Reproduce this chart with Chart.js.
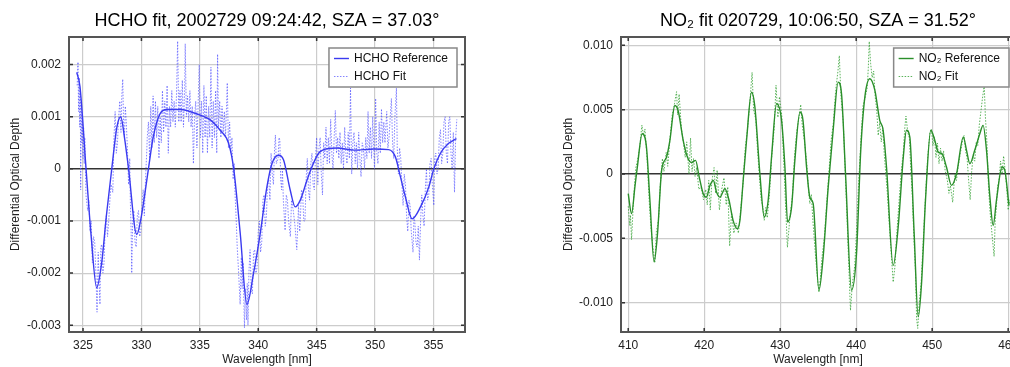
<!DOCTYPE html>
<html>
<head>
<meta charset="utf-8">
<script src="https://cdn.jsdelivr.net/npm/chart.js@4/dist/chart.umd.min.js"></script>
<style>
  html, body { margin: 0; padding: 0; background: #fff; overflow: hidden; width: 1010px; height: 367px; }
  #left { position: absolute; left: 0; top: 0; width: 505px; height: 367px; }
  #right { position: absolute; left: 505px; top: 0; width: 560px; height: 367px; }
</style>
</head>
<body>
<div id="left"><canvas id="hcho"></canvas></div>
<div id="right"><canvas id="no2"></canvas></div>
<script>
// values in units of 1e-3 optical depth, [wavelength nm, value]
const hchoRef = [
  [324.46,1.85],[324.74,1.58],[325.26,0],[325.7,-1.3],[326.17,-2.28],[326.6,-1.8],[327.0,-0.9],[327.46,0],
  [327.9,0.8],[328.23,1.0],[328.55,0.6],[328.9,0],[329.6,-1.26],[330.0,-0.9],[330.6,0],[331.0,0.6],
  [331.6,1.06],[332.17,1.14],[333.3,1.14],[335.03,1.03],[335.9,0.94],[336.74,0.74],[337.46,0.49],[337.9,0],
  [338.46,-1.24],[339.03,-2.6],[339.6,-2.0],[340.17,-1.24],[340.74,-0.35],[341.17,0.1],[341.74,0.26],[342.17,0.17],
  [342.74,-0.41],[343.17,-0.73],[343.6,-0.6],[344.17,-0.22],[344.6,0.04],[345.17,0.3],[346.03,0.39],[346.74,0.4],
  [348.17,0.36],[349.89,0.38],[351.17,0.37],[351.74,0.23],[352.17,-0.15],[352.6,-0.54],[353.17,-0.96],[353.89,-0.73],
  [354.6,-0.35],[355.03,0],[355.6,0.3],[356.3,0.49],[356.97,0.58]
];
const hchoFit = [
  [324.5,1.6],[324.57,2.05],[324.62,1.1],[324.67,1.75],[324.72,0.8],[324.77,1.5],[324.8,-0.4],[324.85,1.2],
  [324.9,0.5],[324.95,0.9],[325.0,0.2],[325.05,0.8],[325.1,0.1],[325.15,0.6],[325.25,-0.5],[325.4,-0.8],
  [325.5,-0.6],[325.6,-1.2],[325.7,-1.0],[325.8,-1.8],[325.9,-1.3],[326.0,-1.4],[326.1,-2.0],[326.2,-2.75],
  [326.3,-1.6],[326.38,-2.2],[326.45,-2.6],[326.52,-1.5],[326.6,-1.45],[326.7,-2.0],[326.8,-1.8],[326.9,-1.1],
  [327.0,-0.9],[327.1,-1.3],[327.2,-1.0],[327.3,-0.6],[327.4,-0.3],[327.55,-0.45],[327.65,0.6],[327.75,1.1],
  [327.85,0.3],[327.95,0.5],[328.05,1.0],[328.15,1.3],[328.25,0.7],[328.32,1.4],[328.4,1.72],[328.47,0.9],
  [328.55,0.6],[328.62,1.2],[328.7,0.9],[328.8,0.4],[328.9,-0.3],[329.0,0.2],[329.05,-0.6],[329.12,-1.2],
  [329.17,-2.0],[329.25,-1.0],[329.35,-0.8],[329.45,-1.4],[329.55,-1.5],[329.65,-0.9],[329.75,-0.8],[329.85,-1.3],
  [329.95,-1.2],[330.05,-0.7],[330.15,-0.4],[330.25,-0.9],[330.35,-0.2],[330.45,0.3],[330.5,0.6],[330.6,0.9],
  [330.7,0.2],[330.8,1.2],[330.9,0.4],[331.0,1.4],[331.1,0.5],[331.2,1.3],[331.3,0.6],[331.4,1.2],
  [331.5,0.2],[331.6,1.0],[331.7,0.5],[331.8,1.5],[331.9,0.7],[332.0,1.3],[332.1,0.8],[332.2,1.6],
  [332.3,0.3],[332.4,1.2],[332.5,0.8],[332.6,1.5],[332.7,0.9],[332.8,1.3],[332.9,0.8],[333.0,1.4],
  [333.1,2.45],[333.2,0.9],[333.3,1.5],[333.4,0.9],[333.5,1.7],[333.6,0.8],[333.7,1.5],[333.75,2.4],
  [333.85,1.0],[333.95,1.4],[334.05,0.9],[334.15,1.5],[334.25,0.8],[334.35,1.2],[334.45,0.1],[334.55,1.0],
  [334.65,1.3],[334.75,0.4],[334.85,1.2],[334.95,2.0],[335.05,0.6],[335.15,1.3],[335.25,0.3],[335.35,1.6],
  [335.45,0.6],[335.55,1.4],[335.65,0.3],[335.75,1.2],[335.85,0.6],[335.95,1.95],[336.05,0.4],[336.15,1.3],
  [336.25,0.6],[336.35,1.5],[336.45,0.3],[336.52,2.2],[336.6,0.8],[336.7,1.3],[336.8,0.6],[336.9,1.2],
  [337.0,0.7],[337.1,1.1],[337.2,0.6],[337.35,1.65],[337.45,0.4],[337.55,0.9],[337.65,0.3],[337.75,0.6],
  [337.85,-0.2],[337.95,0.1],[338.0,-0.4],[338.1,-0.9],[338.2,-1.5],[338.3,-1.9],[338.45,-2.6],[338.55,-1.7],
  [338.62,-2.3],[338.7,-1.8],[338.82,-3.05],[338.9,-2.3],[339.0,-2.9],[339.06,-2.2],[339.12,-3.0],[339.2,-2.0],
  [339.3,-1.55],[339.4,-2.3],[339.5,-2.4],[339.6,-1.6],[339.7,-1.55],[339.8,-2.0],[339.9,-1.9],[340.0,-1.2],
  [340.1,-1.0],[340.2,-1.6],[340.3,-1.4],[340.4,-0.6],[340.5,-0.5],[340.6,-1.1],[340.7,-0.9],[340.8,-0.3],
  [340.9,-0.2],[341.0,-0.6],[341.1,0.3],[341.2,-0.1],[341.3,-0.3],[341.4,0.4],[341.47,0.65],[341.55,0.1],
  [341.7,0.2],[341.78,0.6],[341.85,0.55],[341.92,-0.2],[342.0,-0.4],[342.07,0.0],[342.15,-0.6],[342.3,-1.18],
  [342.4,-0.5],[342.5,-0.6],[342.6,-1.0],[342.75,-1.3],[342.85,-0.6],[343.0,-0.8],[343.15,-1.1],[343.3,-1.55],
  [343.45,-0.7],[343.55,-1.2],[343.6,-1.0],[343.7,-0.4],[343.8,-0.5],[343.9,-1.0],[344.0,-1.0],[344.1,-0.2],
  [344.2,0.2],[344.3,-0.4],[344.4,-0.6],[344.5,0.1],[344.6,0.3],[344.7,-0.3],[344.8,-0.4],[344.9,0.2],
  [345.0,0.6],[345.1,-0.3],[345.2,0.4],[345.3,0.6],[345.4,-0.1],[345.5,-0.5],[345.6,0.5],[345.7,0.2],
  [345.8,0.8],[345.9,0.1],[346.0,0.6],[346.1,0.1],[346.2,0.95],[346.3,0.3],[346.4,0.0],[346.5,0.6],
  [346.6,1.12],[346.7,0.3],[346.8,0.6],[346.9,0.2],[347.0,0.7],[347.1,0.1],[347.2,0.5],[347.3,0.0],
  [347.4,0.8],[347.5,0.3],[347.6,0.1],[347.7,0.7],[347.8,0.2],[347.9,1.55],[348.0,-0.1],[348.1,0.5],
  [348.2,0.7],[348.3,0.1],[348.4,0.5],[348.5,0.0],[348.6,0.7],[348.7,0.2],[348.8,-0.15],[348.9,0.5],
  [349.0,0.4],[349.1,0.0],[349.2,0.6],[349.3,0.2],[349.4,1.1],[349.5,0.3],[349.6,0.8],[349.7,0.2],
  [349.8,1.0],[349.9,0.3],[349.95,0.0],[350.05,1.35],[350.15,0.3],[350.25,0.1],[350.35,0.9],[350.45,0.3],
  [350.55,1.15],[350.65,0.5],[350.75,0.9],[350.85,0.5],[351.0,1.1],[351.1,0.4],[351.2,0.6],[351.3,1.0],
  [351.4,1.35],[351.5,0.5],[351.6,0.2],[351.7,1.0],[351.83,1.55],[351.9,0.4],[352.0,-0.1],[352.1,0.4],
  [352.2,0.2],[352.3,-0.3],[352.4,-0.7],[352.5,-0.1],[352.6,-0.3],[352.7,-0.9],[352.8,-1.2],[352.9,-0.6],
  [353.0,-0.7],[353.1,-1.2],[353.25,-1.6],[353.33,-0.9],[353.4,-1.0],[353.5,-1.4],[353.6,-1.5],[353.7,-1.1],
  [353.8,-1.75],[353.9,-1.0],[354.0,-0.5],[354.1,-0.9],[354.2,-1.1],[354.3,-0.4],[354.4,0.0],[354.5,-0.6],
  [354.6,-0.5],[354.7,0.1],[354.8,0.2],[354.9,-0.3],[355.03,-0.7],[355.1,0.2],[355.2,0.3],[355.3,-0.1],
  [355.4,0.0],[355.5,0.6],[355.6,0.75],[355.7,0.1],[355.8,0.3],[355.9,0.9],[356.0,1.0],[356.1,0.3],
  [356.2,0.1],[356.3,0.9],[356.4,1.0],[356.5,0.3],[356.6,0.0],[356.7,0.7],[356.8,-0.45],[356.9,0.6],
  [357.0,0.95]
];
const no2Ref = [
  [410.0,-1.53],[410.44,-3.08],[410.88,-1.0],[411.2,0.54],[411.84,3.13],[412.4,2.1],[412.85,-2.0],[413.4,-6.83],
  [413.86,-4.6],[414.4,0.3],[415.04,1.3],[415.48,2.6],[416.14,5.33],[416.58,4.9],[417.24,2.6],[417.8,1.3],
  [418.33,0.9],[418.86,1.06],[419.34,-0.23],[419.87,-1.53],[420.3,-1.8],[420.75,-0.9],[421.2,-0.5],[421.62,-1.4],
  [422.06,-1.8],[422.72,-1.14],[423.25,-2.0],[423.8,-3.6],[424.34,-4.25],[424.7,-3.6],[425.13,-0.5],[425.57,2.6],
  [426.23,6.36],[426.67,5.2],[427.33,0.0],[427.9,-3.34],[428.42,-2.04],[428.86,1.3],[429.52,5.46],[430.18,4.17],
  [430.62,0.54],[430.97,-3.73],[431.5,-2.56],[431.93,1.06],[432.6,4.8],[433.0,4.17],[433.47,0.54],[433.9,-1.8],
  [434.34,-2.3],[435.1,-9.03],[435.66,-6.4],[436.32,-1.0],[436.97,3.4],[437.63,7.14],[438.07,6.24],[438.6,0.0],
  [439.39,-9.03],[440.04,-6.2],[440.6,1.84],[441.14,5.98],[441.8,7.4],[442.46,6.5],[443.1,4.17],[443.55,3.4],
  [443.99,0.54],[444.87,-7.1],[445.53,-4.1],[446.2,1.3],[446.62,3.4],[447.06,2.87],[447.63,-4.63],[448.16,-11.1],
  [448.6,-8.5],[449.12,-2.04],[449.82,3.4],[450.35,2.6],[450.8,1.7],[451.3,1.58],[451.88,0.54],[452.54,-0.88],
  [453.2,0.0],[454.1,2.87],[454.52,1.84],[454.96,0.8],[455.6,1.84],[456.27,3.13],[456.7,3.78],[457.15,1.84],
  [457.6,-1.8],[458.03,-4.0],[458.46,-2.04],[459.2,0.54],[459.56,0.28],[460.1,-2.43]
];
const no2Fit = [
  [410.0,-2.5],[410.2,-4.0],[410.3,-3.2],[410.44,-5.1],[410.7,-2.0],[411.0,0.5],[411.2,1.0],[411.5,2.0],
  [411.8,3.8],[412.0,3.0],[412.2,3.5],[412.5,1.0],[412.8,-2.5],[413.0,-4.2],[413.3,-6.0],[413.5,-6.9],
  [413.7,-4.5],[414.0,-3.5],[414.2,-1.0],[414.5,1.2],[414.7,0.2],[415.0,1.7],[415.2,0.6],[415.5,2.8],
  [415.8,4.6],[416.1,5.5],[416.36,6.4],[416.5,4.6],[416.7,6.2],[417.0,3.5],[417.3,2.3],[417.5,1.3],
  [417.7,2.5],[418.0,0.0],[418.2,2.8],[418.4,0.2],[418.6,1.2],[418.8,-0.2],[419.0,0.5],[419.3,-1.2],
  [419.6,-1.0],[419.9,-2.0],[420.2,-1.2],[420.4,-2.4],[420.6,-0.5],[420.8,-2.8],[421.0,-0.6],[421.3,0.5],
  [421.5,-1.5],[421.7,0.3],[422.0,-2.8],[422.3,-1.2],[422.6,-0.3],[422.9,-2.4],[423.1,-1.0],[423.35,-5.6],
  [423.6,-3.0],[423.9,-4.6],[424.2,-3.8],[424.5,-4.6],[424.8,-2.8],[425.1,-0.8],[425.4,2.0],[425.7,3.5],
  [426.0,5.5],[426.3,7.9],[426.5,5.0],[426.8,4.2],[427.0,2.0],[427.3,-0.5],[427.5,-2.0],[427.7,-2.5],
  [427.9,-3.6],[428.1,-2.6],[428.3,-3.4],[428.6,-1.5],[428.9,1.5],[429.2,3.5],[429.45,6.9],[429.7,4.4],
  [429.9,6.0],[430.2,4.6],[430.5,0.5],[430.75,-3.0],[430.95,-5.7],[431.3,-3.2],[431.6,-1.8],[431.9,1.5],
  [432.2,3.4],[432.5,4.5],[432.7,5.4],[432.9,3.8],[433.2,2.5],[433.5,0.8],[433.7,-1.0],[433.9,-2.3],
  [434.1,-1.6],[434.3,-3.6],[434.6,-6.0],[434.9,-8.1],[435.1,-9.2],[435.3,-8.0],[435.5,-6.5],[435.8,-5.0],
  [436.1,-2.5],[436.4,0.0],[436.7,2.6],[437.0,4.0],[437.3,6.5],[437.6,8.0],[437.78,9.2],[438.0,6.0],
  [438.3,4.0],[438.5,1.0],[438.8,-3.5],[439.05,-7.5],[439.25,-10.6],[439.5,-8.5],[439.8,-7.2],[440.0,-5.0],
  [440.3,-1.0],[440.6,2.4],[440.9,5.3],[441.2,6.0],[441.45,6.7],[441.6,8.3],[441.72,10.3],[441.9,8.6],
  [442.1,7.5],[442.3,8.0],[442.5,6.0],[442.7,5.0],[442.9,3.0],[443.1,4.0],[443.3,2.5],[443.5,3.6],
  [443.7,1.5],[443.9,0.0],[444.1,-1.5],[444.4,-4.3],[444.65,-6.5],[444.87,-8.4],[445.1,-7.2],[445.3,-5.0],
  [445.6,-2.5],[445.9,0.0],[446.2,1.7],[446.4,3.6],[446.55,4.5],[446.8,3.2],[447.0,2.8],[447.2,0.2],
  [447.4,-1.8],[447.6,-5.0],[447.8,-7.5],[447.95,-11.2],[448.1,-12.0],[448.3,-10.0],[448.55,-8.5],[448.8,-5.5],
  [449.1,-2.0],[449.4,1.2],[449.7,3.2],[449.9,3.5],[450.1,2.2],[450.3,2.9],[450.5,1.3],[450.7,2.4],
  [450.9,0.8],[451.1,2.0],[451.3,1.0],[451.5,1.8],[451.7,0.3],[452.0,-0.5],[452.2,-1.5],[452.4,-0.9],
  [452.7,-2.2],[452.85,-1.0],[453.0,0.0],[453.2,-0.5],[453.4,0.5],[453.7,1.6],[454.0,2.6],[454.2,3.0],
  [454.4,1.8],[454.6,1.2],[454.8,-0.5],[455.0,-2.0],[455.2,0.2],[455.4,1.5],[455.6,1.0],[455.8,2.5],
  [456.0,2.2],[456.2,3.8],[456.4,4.8],[456.6,5.8],[456.85,6.9],[457.0,4.5],[457.2,2.5],[457.4,-0.8],
  [457.6,-2.8],[457.8,-4.2],[458.15,-6.4],[458.3,-3.5],[458.45,-2.6],[458.6,-1.0],[458.8,-0.5],[459.0,1.0],
  [459.2,0.0],[459.4,1.4],[459.6,0.3],[459.8,-1.0],[460.0,-2.8],[460.2,-2.0]
];

const hchoXTicks = [325, 330, 335, 340, 345, 350, 355];
const hchoYTicks = [-0.003, -0.002, -0.001, 0, 0.001, 0.002];
const no2XTicks = [410, 420, 430, 440, 450, 460];
const no2YTicks = [-0.010, -0.005, 0, 0.005, 0.010];

const FONT = '"Liberation Sans", Arial, sans-serif';
const pts = arr => arr.map(p => ({ x: p[0], y: p[1] * 1e-3 }));

const framePlugin = {
  id: 'frame',
  afterDraw(chart, args, opts) {
    const { ctx, chartArea: a, scales } = chart;
    ctx.save();
    // small tick marks inside the box
    ctx.strokeStyle = '#333';
    ctx.lineWidth = 1.5;
    ctx.beginPath();
    scales.x.ticks.forEach(t => {
      const px = scales.x.getPixelForValue(t.value);
      ctx.moveTo(px, a.bottom); ctx.lineTo(px, a.bottom - 4);
      ctx.moveTo(px, a.top); ctx.lineTo(px, a.top + 4);
    });
    scales.y.ticks.forEach(t => {
      const py = scales.y.getPixelForValue(t.value);
      ctx.moveTo(a.left, py); ctx.lineTo(a.left + 4, py);
      ctx.moveTo(a.right, py); ctx.lineTo(a.right - 4, py);
    });
    ctx.stroke();
    ctx.strokeStyle = '#555';
    ctx.lineWidth = 2;
    ctx.strokeRect(a.left, a.top, a.right - a.left, a.bottom - a.top);

    // title
    ctx.fillStyle = '#000';
    ctx.font = '18px ' + FONT;
    ctx.textAlign = 'center';
    ctx.textBaseline = 'alphabetic';
    ctx.fillText(opts.title, (a.left + a.right) / 2, 26);

    // legend box inside the plot
    ctx.font = '12px ' + FONT;
    const sets = chart.data.datasets;
    const tw = Math.max(...sets.map(d => ctx.measureText(d.label).width));
    const w = 25 + tw + 9, h = 39;
    const x0 = a.right - opts.inset - w, y0 = a.top + 11;
    ctx.fillStyle = '#fff';
    ctx.fillRect(x0, y0, w, h);
    ctx.strokeStyle = '#888';
    ctx.lineWidth = 1.5;
    ctx.strokeRect(x0, y0, w, h);
    ctx.textAlign = 'left';
    ctx.textBaseline = 'middle';
    sets.forEach((d, i) => {
      const cy = y0 + 10.5 + i * 18;
      ctx.strokeStyle = d.borderColor;
      ctx.lineWidth = d.borderWidth;
      ctx.setLineDash(d.borderDash || []);
      ctx.beginPath();
      ctx.moveTo(x0 + 5, cy); ctx.lineTo(x0 + 20, cy);
      ctx.stroke();
      ctx.setLineDash([]);
      ctx.fillStyle = '#111';
      ctx.fillText(d.label, x0 + 25, cy + 0.5);
    });
    ctx.restore();
  }
};

function makeChart(id, cfg) {
  const isZero = v => Math.abs(v) < 1e-9;
  return new Chart(document.getElementById(id), {
    type: 'line',
    data: {
      datasets: [
        {
          label: cfg.refLabel, data: pts(cfg.ref), borderColor: cfg.refColor, borderWidth: 1.4,
          pointRadius: 0, cubicInterpolationMode: 'monotone', order: 1
        },
        {
          label: cfg.fitLabel, data: pts(cfg.fit), borderColor: cfg.fitColor, borderWidth: 1,
          borderDash: [1.5, 1.5], pointRadius: 0, tension: 0, order: 2
        }
      ]
    },
    options: {
      responsive: true,
      maintainAspectRatio: false,
      animation: false,
      layout: { padding: cfg.padding },
      plugins: {
        legend: { display: false },
        tooltip: { enabled: false },
        frame: { title: cfg.title, inset: cfg.inset }
      },
      scales: {
        x: {
          type: 'linear', min: cfg.xMin, max: cfg.xMax,
          afterBuildTicks: ax => { ax.ticks = cfg.xTicks.map(v => ({ value: v })); },
          afterFit: ax => { ax.height = 35; },
          grid: { color: '#cccccc', lineWidth: 1.2, drawTicks: false },
          border: { display: false },
          ticks: { autoSkip: false, maxRotation: 0, padding: 6, color: '#222', font: { family: FONT, size: 12 } },
          title: { display: true, text: 'Wavelength [nm]', color: '#222', padding: 0, font: { family: FONT, size: 12 } }
        },
        y: {
          min: cfg.yMin, max: cfg.yMax,
          afterBuildTicks: ax => { ax.ticks = cfg.yTicks.map(v => ({ value: v })); },
          afterFit: ax => { ax.width = cfg.yWidth; },
          grid: {
            color: c => isZero(c.tick.value) ? '#333' : '#cccccc',
            lineWidth: c => isZero(c.tick.value) ? 1.5 : 1.2,
            drawTicks: false
          },
          border: { display: false },
          ticks: {
            autoSkip: false, padding: 8, color: '#222', font: { family: FONT, size: 12 },
            callback: v => isZero(v) ? '0' : v.toFixed(3)
          },
          title: { display: true, text: 'Differential Optical Depth', color: '#222', padding: { top: 8, bottom: 0 }, font: { family: FONT, size: 12 } }
        }
      }
    },
    plugins: [framePlugin]
  });
}

makeChart('hcho', {
  title: 'HCHO fit, 2002729 09:24:42, SZA = 37.03°',
  refLabel: 'HCHO Reference', fitLabel: 'HCHO Fit',
  ref: hchoRef, fit: hchoFit,
  refColor: '#3a3af0', fitColor: 'rgba(80,80,255,0.7)',
  xMin: 323.8, xMax: 357.7, yMin: -0.00313, yMax: 0.00253,
  xTicks: hchoXTicks, yTicks: hchoYTicks,
  padding: { top: 37, right: 40, left: 0, bottom: 0 }, yWidth: 69, inset: 8
});

makeChart('no2', {
  title: 'NO₂ fit 020729, 10:06:50, SZA = 31.52°',
  refLabel: 'NO₂ Reference', fitLabel: 'NO₂ Fit',
  ref: no2Ref, fit: no2Fit,
  refColor: '#2a8f2a', fitColor: 'rgba(50,160,50,0.8)',
  xMin: 409.05, xMax: 460.9, yMin: -0.01228, yMax: 0.01065,
  xTicks: no2XTicks, yTicks: no2YTicks,
  padding: { top: 37, right: 50, left: 48, bottom: 0 }, yWidth: 68, inset: 6
});
</script>
</body>
</html>
